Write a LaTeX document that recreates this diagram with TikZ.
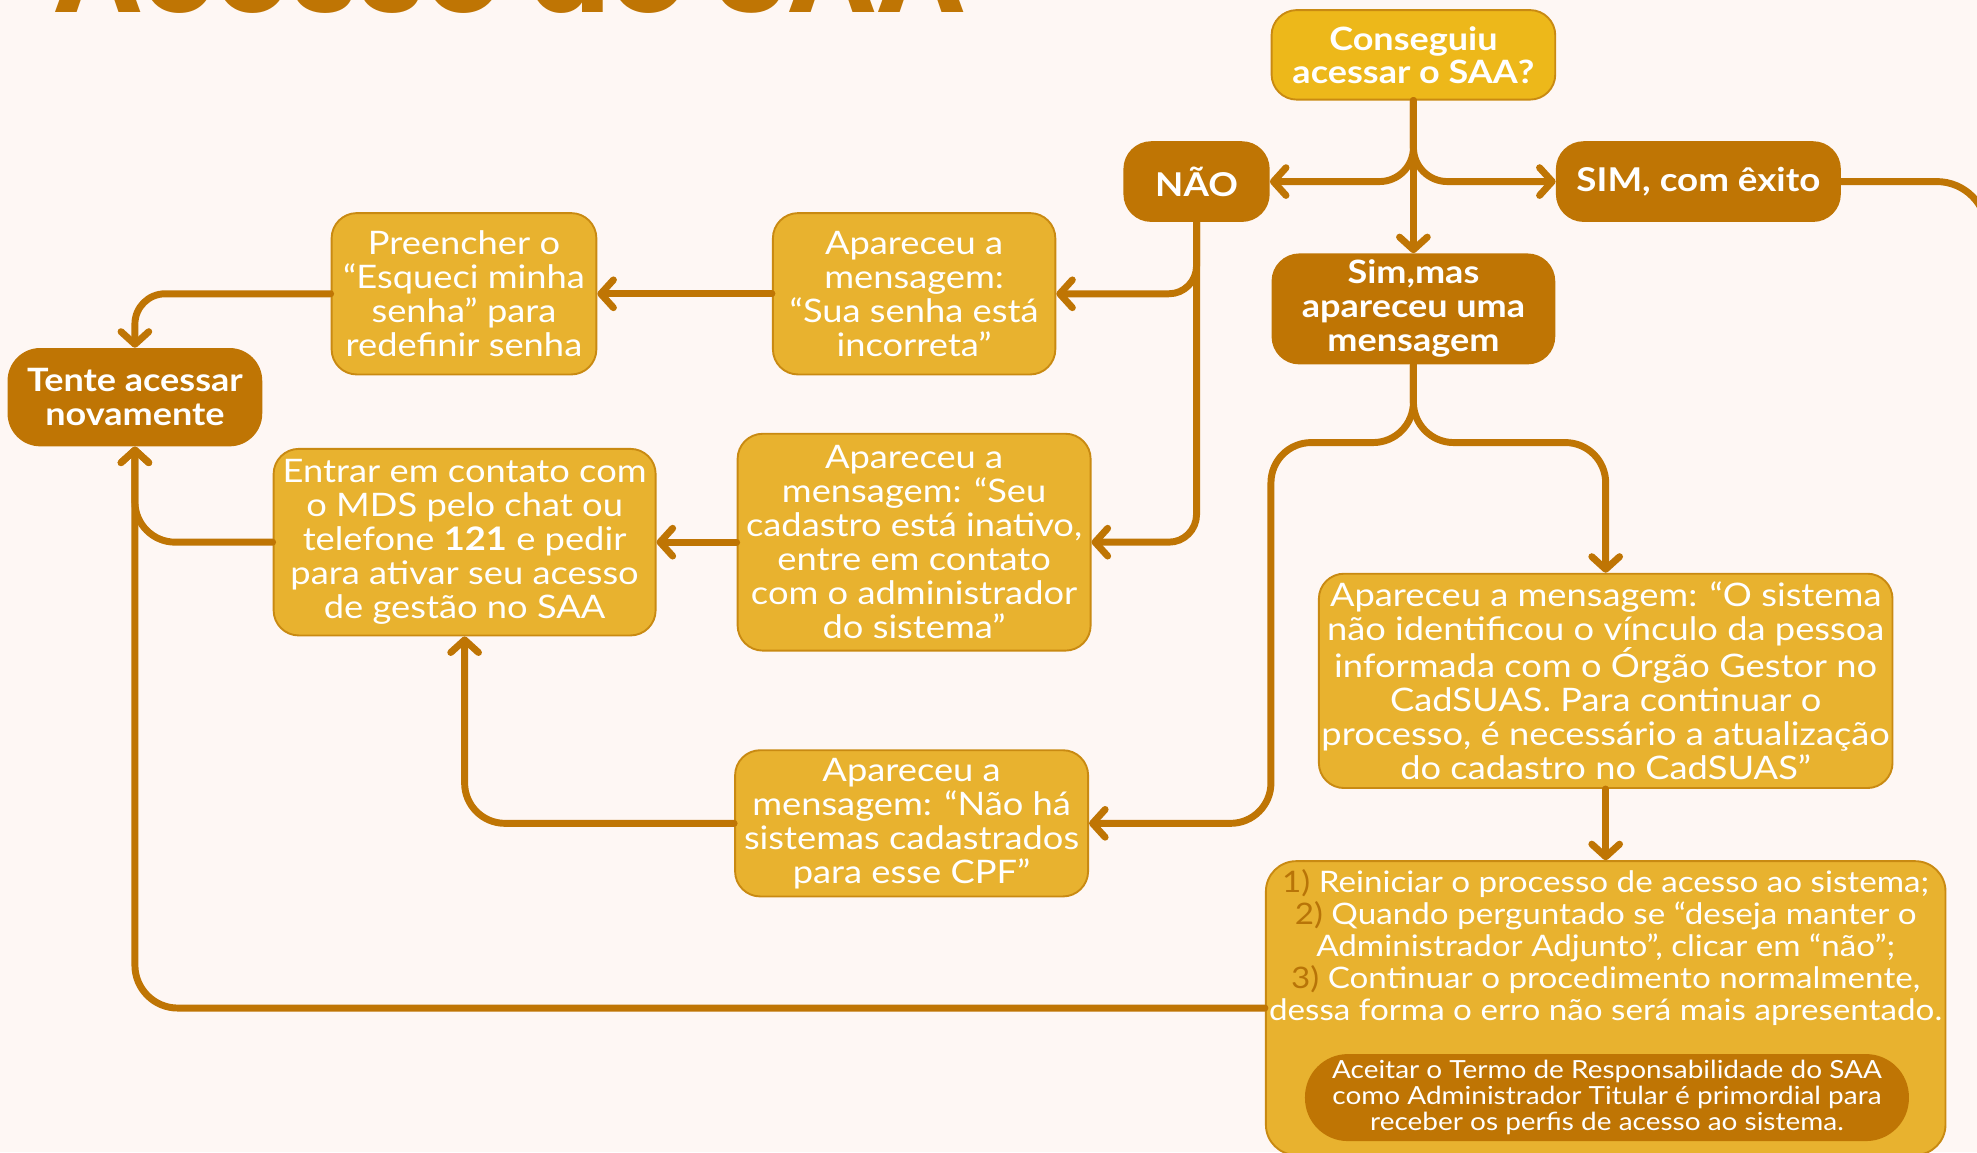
\documentclass[tikz,border=0pt]{standalone}
\usepackage{fontspec}
\setmainfont{Lato}[FakeStretch=1.12]
\newfontfamily\titlefont{Poppins}
\usetikzlibrary{arrows.meta}
\definecolor{bgc}{HTML}{FEF7F4}
\definecolor{brn}{HTML}{BF7504}
\definecolor{yfill}{HTML}{E8B22F}
\definecolor{ybord}{HTML}{C98A12}
\definecolor{cfill}{HTML}{EDB81A}
\definecolor{numc}{HTML}{B87408}
\tikzset{
  ybox/.style={draw=ybord, fill=yfill, line width=1.5pt, rounded corners=20pt, text=white, align=center,
    font=\fontsize{25.7}{27}\selectfont, inner sep=0pt},
  bbox/.style={fill=brn, rounded corners=22pt, text=white, align=center,
    font=\bfseries\fontsize{25.5}{27}\selectfont, inner sep=0pt},
  conn/.style={draw=brn, line width=5.5pt, line cap=round, line join=round},
  arr/.style={conn, -{Straight Barb[length=10pt,width=22pt,line cap=round,line join=round]}},
}
\begin{document}
\begin{tikzpicture}[x=1pt,y=-1pt]
\fill[bgc] (0,0) rectangle (1568,914);
\useasboundingbox (0,0) rectangle (1568,914);

% title (cut at top)
\node[anchor=base west, inner sep=0pt, text=brn, font=\titlefont\bfseries\fontsize{96}{100}\selectfont] (title) at (42,10) {Acesso ao SAA};

% nodes
\node[ybox, fill=cfill, font=\bfseries\fontsize{25.5}{27}\selectfont, minimum width=225pt, minimum height=71pt] (c1) at (1121,43.5) {Conseguiu\\[-1pt]acessar o SAA?};
\node[bbox, minimum width=116pt, minimum height=64pt, font=\bfseries\fontsize{26}{29}\selectfont] (nao) at (949,144) {NÃO};
\node[bbox, minimum width=226pt, minimum height=64pt, font=\bfseries\fontsize{26}{29}\selectfont] (sim) at (1347,144) {SIM, com êxito};
\node[bbox, minimum width=225pt, minimum height=88pt] (simmas) at (1121,245) {Sim,mas\\apareceu uma\\mensagem};
\node[ybox, minimum width=210pt, minimum height=128pt] (pre) at (368,233) {Preencher o\\“Esqueci minha\\senha” para\\redefinir senha};
\node[ybox, minimum width=224pt, minimum height=128pt] (sua) at (725,233) {Apareceu a\\mensagem:\\“Sua senha está\\incorreta”};
\node[bbox, minimum width=202pt, minimum height=78pt, rounded corners=26pt] (tente) at (107,315) {Tente acessar\\novamente};
\node[ybox, minimum width=303pt, minimum height=148pt] (entrar) at (368.5,430) {Entrar em contato com\\o MDS pelo chat ou\\telefone \textbf{121} e pedir\\para ativar seu acesso\\de gestão no SAA};
\node[ybox, minimum width=280pt, minimum height=172pt] (seu) at (725,430) {Apareceu a\\mensagem: “Seu\\cadastro está inativo,\\entre em contato\\com o administrador\\do sistema”};
\node[ybox, minimum width=280pt, minimum height=116pt] (naoha) at (723,653) {Apareceu a\\mensagem: “Não há\\sistemas cadastrados\\para esse CPF”};
\node[ybox, minimum width=455pt, minimum height=170pt] (sist) at (1273.5,540) {Apareceu a mensagem: “O sistema\\não identificou o vínculo da pessoa\\informada com o Órgão Gestor no\\CadSUAS. Para continuar o\\processo, é necessário a atualização\\do cadastro no CadSUAS”};
\node[ybox, minimum width=539pt, minimum height=233pt, rounded corners=24pt] (steps) at (1273.5,799.5) {};
\node[inner sep=0pt, text=white, align=center, font=\fontsize{23.5}{25.5}\selectfont] (stepstext) at (1273.5,751.5)
  {\textcolor{numc}{1)} Reiniciar o processo de acesso ao sistema;\\
   \textcolor{numc}{2)} Quando perguntado se “deseja manter o\\
   Administrador Adjunto”, clicar em “não”;\\
   \textcolor{numc}{3)} Continuar o procedimento normalmente,\\
   dessa forma o erro não será mais apresentado.};
\node[fill=brn, rounded corners=34pt, minimum width=479pt, minimum height=69pt, inner sep=0pt, text=white, align=center,
  font=\fontsize{19.8}{20.5}\selectfont] (pill) at (1274.5,870.5)
  {Aceitar o Termo de Responsabilidade do SAA\\como Administrador Titular é primordial para\\receber os perfis de acesso ao sistema.};

% helper coordinates
\coordinate (jl) at (1008,351);
\coordinate (jr) at (1273.5,351);
\coordinate (simexit) at (1576,980);

% connectors
\draw[arr, rounded corners=27pt] (c1.south) |- (nao.east);
\draw[arr, rounded corners=27pt] (c1.south) |- (sim.west);
\draw[arr] (c1.south) -- (simmas.north);
\draw[conn, rounded corners=40pt] (sim.east) -| (simexit);

\draw[arr, rounded corners=22pt] (nao.south) |- (sua.east);
\draw[arr, rounded corners=22pt] (nao.south) |- (seu.east);

\draw[arr, rounded corners=32pt] (simmas.south) |- (jl) |- (naoha.east);
\draw[arr, rounded corners=32pt] (simmas.south) |- (jr) -- (sist.north);

\draw[arr] (sua.west) -- (pre.east);
\draw[arr, rounded corners=24pt] (pre.west) -| (tente.north);
\draw[arr] (seu.west) -- (entrar.east);
\draw[arr, rounded corners=32pt] (entrar.west) -| (tente.south);
\draw[arr, rounded corners=32pt] (naoha.west) -| (entrar.south);
\draw[arr, rounded corners=34pt] (steps.west) -| (tente.south);
\draw[arr] (sist.south) -- (steps.north);
\end{tikzpicture}
\end{document}
